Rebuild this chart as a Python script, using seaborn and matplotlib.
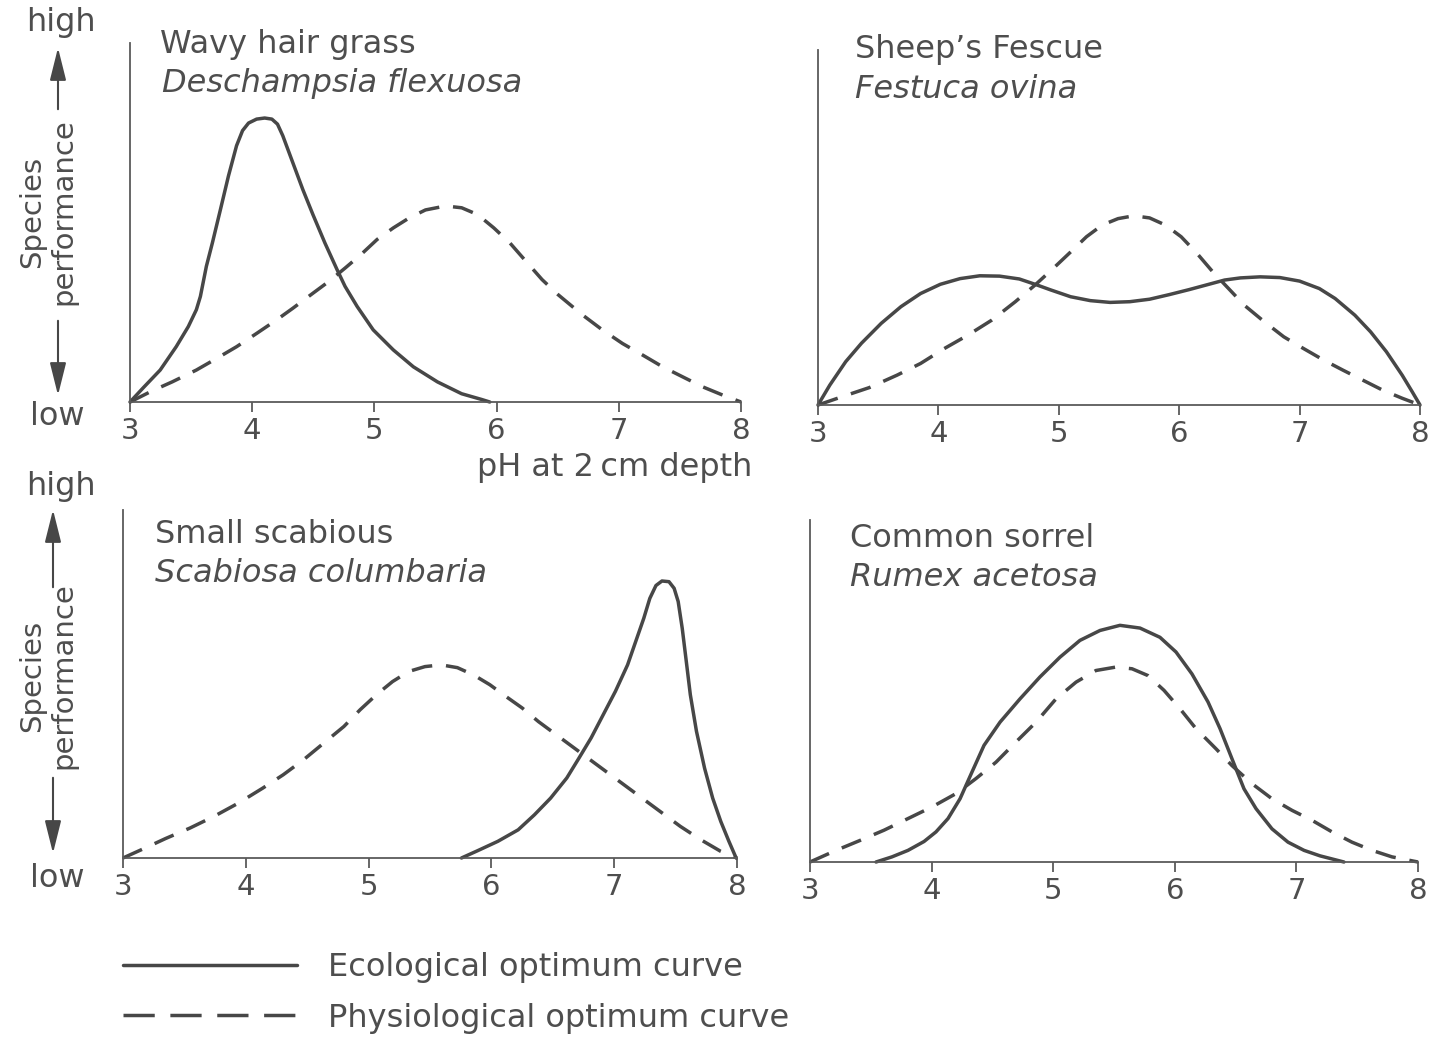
import matplotlib
matplotlib.use("Agg")
import matplotlib.pyplot as plt
import numpy as np
import pandas as pd
import seaborn as sns
from matplotlib.patches import FancyArrowPatch
from matplotlib.lines import Line2D

# ---------------- data (performance in % of axis height, pH on x) ----------------
common_names = ["Wavy hair grass", "Sheep\u2019s Fescue", "Small scabious", "Common sorrel"]
latin_names = ["Deschampsia flexuosa", "Festuca ovina", "Scabiosa columbaria", "Rumex acetosa"]
ph_ticks = [3, 4, 5, 6, 7, 8]
curve_labels = ["Ecological optimum curve", "Physiological optimum curve"]

# Wavy hair grass
wavy_eco_ph = [3.0, 3.115, 3.247, 3.378, 3.477, 3.543, 3.576, 3.625, 3.674, 3.740, 3.806, 3.872, 3.921,
               3.970, 4.036, 4.102, 4.161, 4.207, 4.250, 4.332, 4.414, 4.497, 4.595, 4.694, 4.760,
               4.859, 4.990, 5.155, 5.319, 5.516, 5.714, 5.878, 5.944]
wavy_eco_perf = [0, 4.2, 8.9, 15.4, 21.0, 25.7, 29.4, 37.8, 44.3, 53.6, 63.0, 71.4, 75.6,
                 77.7, 78.8, 79.1, 78.8, 77.4, 74.2, 66.7, 59.2, 52.2, 44.3, 36.9, 32.2,
                 26.6, 20.1, 14.5, 9.8, 5.6, 2.3, 0.7, 0]
wavy_phys_ph = [3.0, 3.181, 3.345, 3.543, 3.707, 3.872, 4.036, 4.201, 4.332, 4.497, 4.628, 4.760, 4.891,
                5.023, 5.155, 5.286, 5.418, 5.582, 5.714, 5.845, 5.977, 6.109, 6.240, 6.372, 6.503,
                6.701, 6.865, 7.030, 7.194, 7.359, 7.523, 7.688, 7.852, 8.0]
wavy_phys_perf = [0, 3.1, 5.6, 8.9, 12.1, 15.4, 19.1, 22.9, 26.1, 30.3, 33.6, 37.3, 41.1,
                  45.3, 48.5, 51.3, 53.5, 54.6, 54.1, 52.2, 48.5, 44.3, 39.2, 34.1, 29.9,
                  24.3, 20.1, 16.3, 13.1, 9.8, 7.0, 4.2, 1.9, 0]

# Sheep's Fescue
fescue_eco_ph = [3.0, 3.098, 3.230, 3.361, 3.525, 3.689, 3.852, 4.016, 4.180, 4.344, 4.508, 4.672, 4.803,
                 4.934, 5.098, 5.262, 5.426, 5.590, 5.754, 5.918, 6.082, 6.246, 6.377, 6.508, 6.672,
                 6.836, 7.0, 7.164, 7.295, 7.459, 7.590, 7.721, 7.852, 7.934, 8.0]
fescue_eco_perf = [0, 5.6, 12.2, 17.4, 23.0, 27.7, 31.4, 34.0, 35.6, 36.4, 36.3, 35.5, 34.0,
                   32.4, 30.5, 29.4, 28.9, 29.1, 29.8, 31.1, 32.5, 34.0, 35.2, 35.8, 36.1,
                   35.9, 34.9, 32.8, 30.0, 25.3, 20.6, 15.0, 8.4, 3.8, 0]
fescue_phys_ph = [3.0, 3.197, 3.426, 3.656, 3.852, 4.049, 4.246, 4.443, 4.639, 4.803, 4.967, 5.098, 5.230,
                  5.361, 5.492, 5.623, 5.754, 5.885, 6.016, 6.148, 6.279, 6.410, 6.541, 6.705, 6.869,
                  7.033, 7.197, 7.361, 7.525, 7.689, 7.852, 8.0]
fescue_phys_perf = [0, 2.3, 4.9, 8.4, 11.7, 15.9, 19.7, 23.9, 29.1, 33.8, 38.9, 43.1, 47.4,
                    50.7, 52.5, 53.3, 52.7, 50.7, 47.4, 42.7, 37.5, 32.8, 28.1, 23.5, 19.2,
                    15.9, 12.7, 9.8, 7.0, 4.2, 1.9, 0]

# Small scabious
scab_eco_ph = [5.756, 5.888, 6.053, 6.218, 6.350, 6.482, 6.614, 6.713, 6.812, 6.911, 7.010, 7.109, 7.175,
               7.241, 7.290, 7.340, 7.389, 7.446, 7.488, 7.521, 7.554, 7.587, 7.620, 7.670, 7.736,
               7.802, 7.868, 7.934, 7.993]
scab_eco_perf = [0, 2.1, 4.8, 8.1, 12.4, 17.2, 23.0, 28.7, 34.5, 41.2, 47.9, 55.5, 62.2,
                 68.9, 74.6, 78.3, 79.6, 79.4, 77.5, 73.7, 66.0, 56.5, 46.9, 36.4, 25.8,
                 17.2, 10.5, 4.8, 0]
scab_phys_ph = [3.0, 3.182, 3.347, 3.545, 3.743, 3.941, 4.139, 4.304, 4.469, 4.634, 4.799, 4.931, 5.063,
                5.195, 5.327, 5.459, 5.591, 5.723, 5.855, 5.987, 6.119, 6.251, 6.383, 6.548, 6.713,
                6.878, 7.043, 7.208, 7.373, 7.538, 7.703, 7.868, 8.0]
scab_phys_perf = [0, 2.9, 5.6, 8.6, 12.0, 15.8, 20.1, 23.9, 28.2, 33.0, 37.8, 42.6, 46.9,
                  50.7, 53.6, 55.0, 55.5, 54.7, 52.6, 49.8, 46.4, 43.1, 39.2, 34.9, 30.6,
                  26.3, 22.0, 17.7, 13.4, 9.1, 5.3, 1.9, 0]

# Common sorrel
sorrel_eco_ph = [3.543, 3.674, 3.806, 3.938, 4.036, 4.135, 4.234, 4.332, 4.431, 4.563, 4.727, 4.891, 5.056,
                 5.220, 5.385, 5.549, 5.714, 5.878, 6.010, 6.141, 6.273, 6.372, 6.470, 6.569, 6.668,
                 6.799, 6.931, 7.063, 7.194, 7.391]
sorrel_eco_perf = [0, 1.5, 3.4, 6.0, 8.8, 12.7, 18.5, 26.3, 34.1, 40.9, 47.7, 54.1, 59.9,
                   64.8, 67.7, 69.2, 68.4, 65.7, 61.4, 55.0, 46.8, 39.0, 30.2, 21.4, 15.6,
                   9.7, 5.8, 3.4, 1.8, 0]
sorrel_phys_ph = [3.0, 3.214, 3.411, 3.609, 3.806, 4.003, 4.201, 4.365, 4.530, 4.694, 4.859, 5.023, 5.188,
                  5.352, 5.516, 5.648, 5.780, 5.911, 6.043, 6.174, 6.339, 6.470, 6.635, 6.799, 6.964,
                  7.128, 7.293, 7.457, 7.622, 7.786, 8.0]
sorrel_phys_perf = [0, 3.4, 6.3, 9.3, 12.7, 16.1, 20.0, 24.4, 29.2, 35.1, 40.9, 47.7, 52.6,
                    56.0, 57.0, 56.5, 54.5, 50.2, 44.8, 39.0, 33.1, 28.2, 22.9, 18.5, 15.1,
                    12.2, 8.8, 5.8, 3.4, 1.5, 0]

# ---------------- style ----------------
sns.set_style("white")
plt.rcParams["font.family"] = ["DejaVu Sans"]
TXT = "#4e4e4e"
LINE = "#474747"
AX = "#5a5a5a"

W, H = 1437, 1037
fig = plt.figure(figsize=(W / 100, H / 100), dpi=100)
fig.patch.set_facecolor("white")


def fx(px):
    return px / W


def fy(py):
    return 1 - py / H


def rect(l, t, r, b):
    return [fx(l), fy(b), (r - l) / W, (b - t) / H]


panels = [
    dict(box=(130, 43, 741, 402), name=0, title=(160, 53), latin=(162, 92),
         eco=(wavy_eco_ph, wavy_eco_perf), phys=(wavy_phys_ph, wavy_phys_perf)),
    dict(box=(818, 50, 1420, 405), name=1, title=(855, 58), latin=(855, 98),
         eco=(fescue_eco_ph, fescue_eco_perf), phys=(fescue_phys_ph, fescue_phys_perf)),
    dict(box=(123, 510, 737, 858), name=2, title=(155, 543), latin=(155, 582),
         eco=(scab_eco_ph, scab_eco_perf), phys=(scab_phys_ph, scab_phys_perf)),
    dict(box=(810, 520, 1418, 862), name=3, title=(850, 547), latin=(850, 586),
         eco=(sorrel_eco_ph, sorrel_eco_perf), phys=(sorrel_phys_ph, sorrel_phys_perf)),
]

DASH = (6, 4)
TITLE_FS = 23
for p in panels:
    ax = fig.add_axes(rect(*p["box"]))
    df = pd.concat([
        pd.DataFrame({"pH": p["eco"][0], "perf": p["eco"][1], "curve": curve_labels[0]}),
        pd.DataFrame({"pH": p["phys"][0], "perf": p["phys"][1], "curve": curve_labels[1]}),
    ], ignore_index=True)
    sns.lineplot(data=df, x="pH", y="perf", style="curve",
                 dashes={curve_labels[0]: "", curve_labels[1]: DASH},
                 color=LINE, linewidth=2.5, estimator=None, legend=False, ax=ax)
    for ln in ax.get_lines():
        ln.set_clip_on(False)
        ln.set_solid_joinstyle("round")
        ln.set_dash_joinstyle("round")
        ln.set_dash_capstyle("butt")
    ax.set_xlim(3, 8)
    ax.set_ylim(0, 100)
    ax.set_xticks(ph_ticks)
    ax.set_xticklabels([str(t) for t in ph_ticks])
    ax.set_yticks([])
    ax.set_xlabel("")
    ax.set_ylabel("")
    ax.set_facecolor("none")
    for s in ["top", "right"]:
        ax.spines[s].set_visible(False)
    for s in ["left", "bottom"]:
        ax.spines[s].set_color(AX)
        ax.spines[s].set_linewidth(1.3)
    ax.tick_params(axis="x", direction="out", length=7, width=1.3, color=AX,
                   labelcolor=TXT, labelsize=21, pad=4, bottom=True)
    fig.text(fx(p["title"][0]), fy(p["title"][1]), common_names[p["name"]],
             fontsize=TITLE_FS, color=TXT, ha="left", va="baseline")
    fig.text(fx(p["latin"][0]), fy(p["latin"][1]), latin_names[p["name"]],
             fontsize=TITLE_FS, color=TXT, ha="left", va="baseline", style="italic")

# x-axis label (top-left panel only)
fig.text(fx(752), fy(476), "pH at 2\u2009cm depth", fontsize=23, color=TXT,
         ha="right", va="baseline")

# y-axis annotation (high / low with arrows)
for (y_high, y_up0, y_up1, y_mid, y_dn0, y_dn1, y_low, xa) in [
        (31, 112, 45, 212, 318, 398, 425, 58),
        (495, 590, 507, 676, 775, 856, 887, 53)]:
    fig.text(fx(61), fy(y_high), "high", fontsize=23, color=TXT, ha="center", va="baseline")
    fig.text(fx(57), fy(y_low), "low", fontsize=23, color=TXT, ha="center", va="baseline")
    fig.text(fx(48), fy(y_mid), "Species\nperformance", fontsize=21, color=TXT,
             ha="center", va="center", rotation=90, linespacing=1.15)
    for (a, b) in [(y_up0, y_up1), (y_dn0, y_dn1)]:
        arr = FancyArrowPatch((fx(xa), fy(a)), (fx(xa), fy(b)), transform=fig.transFigure,
                              arrowstyle="-|>,head_length=1.0,head_width=0.25",
                              mutation_scale=20, color=LINE, lw=1.5)
        fig.add_artist(arr)

# legend
handles = [Line2D([], [], color=LINE, lw=2.5),
           Line2D([], [], color=LINE, lw=2.5, dashes=(9, 4.5))]
fig.legend(handles, curve_labels, loc="upper left",
           bbox_to_anchor=(fx(94), fy(923)), frameon=False, fontsize=23,
           handlelength=5.45, handletextpad=0.97, labelspacing=0.62,
           labelcolor=TXT)

fig.savefig("out.png", dpi=100, facecolor="white")
